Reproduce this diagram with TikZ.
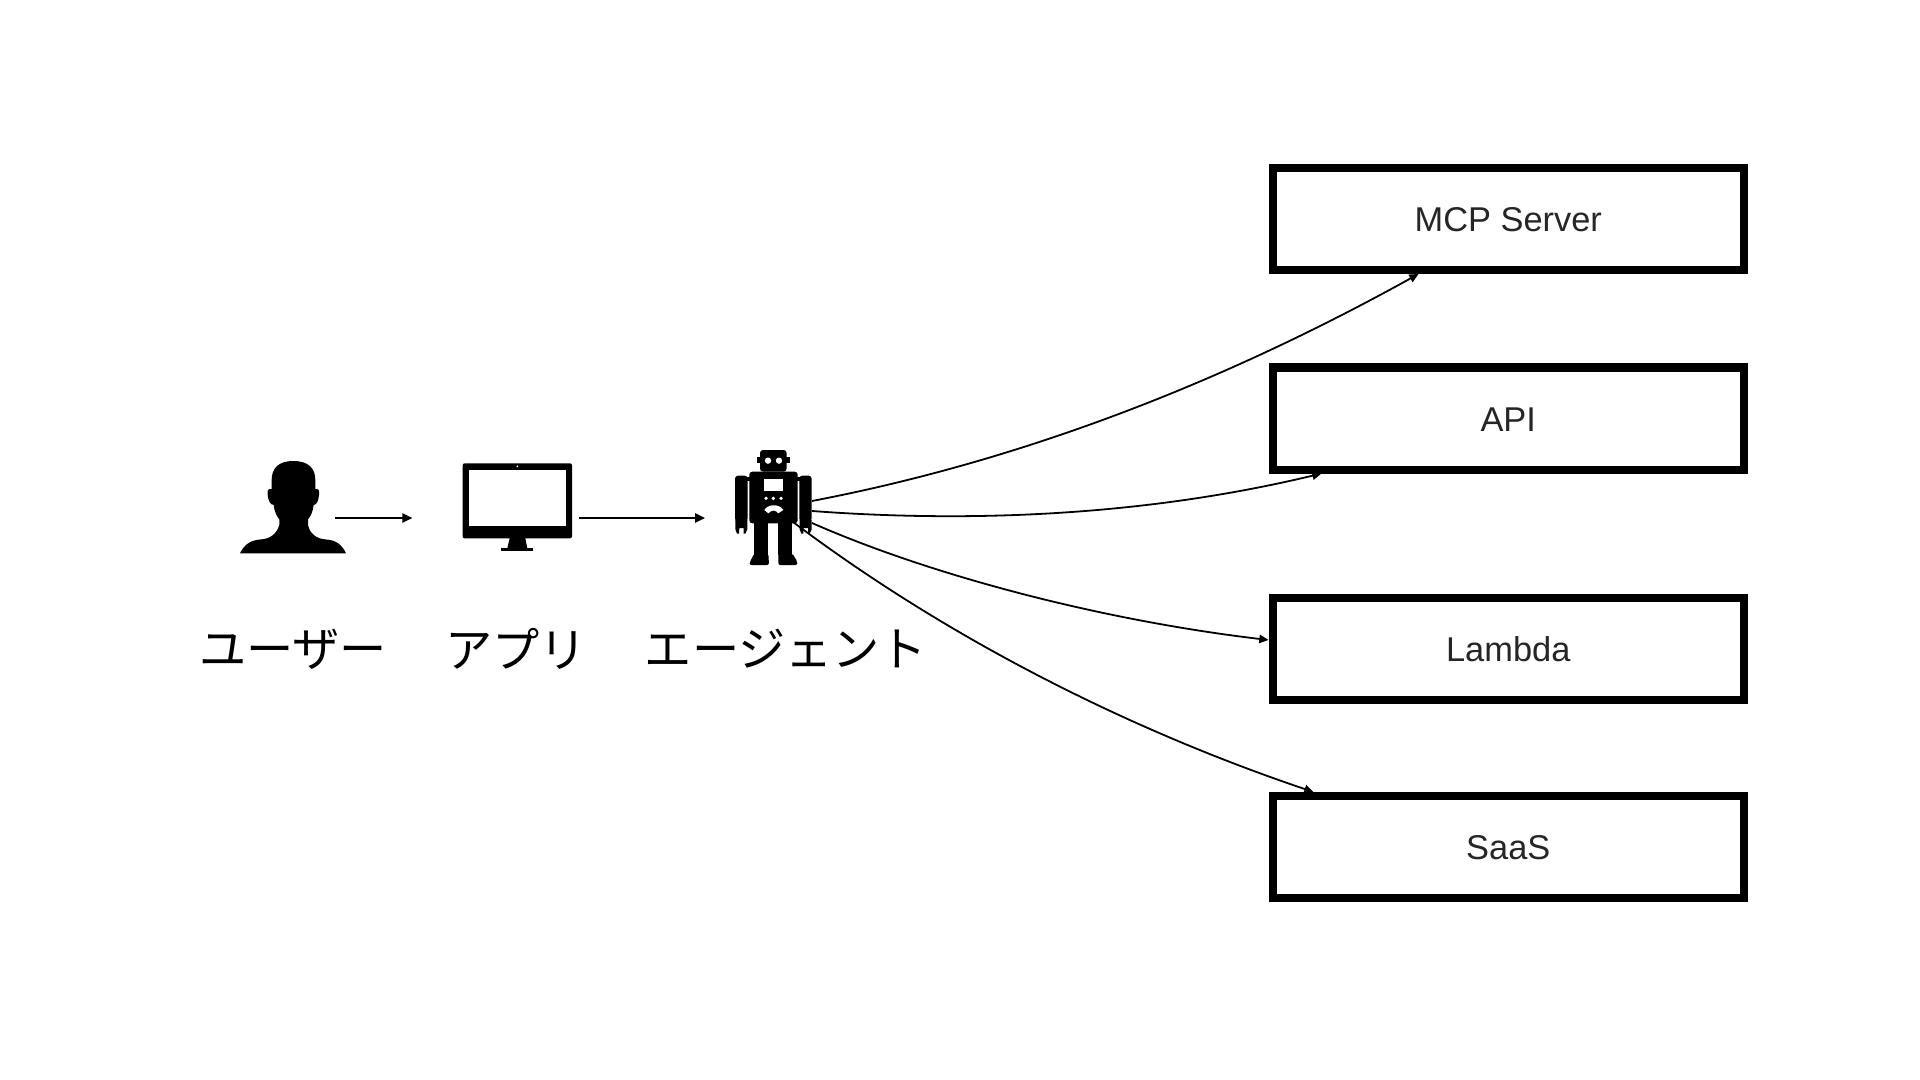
\documentclass[tikz,border=0pt]{standalone}
\usepackage{fontspec}
\usetikzlibrary{calc,arrows.meta}
\newfontfamily\jpfont{Noto Sans CJK JP}
\setmainfont{Liberation Sans}
\tikzset{
  box/.style={draw=black,line width=4pt,fill=white,rectangle,minimum width=235.75pt,minimum height=51pt,inner sep=0pt,font=\fontsize{17.2}{20}\selectfont,text=black!85,text height=12.7pt,text depth=0pt},
  caption/.style={font=\jpfont\fontsize{23.6}{28}\selectfont,inner sep=0pt,text=black},
  hidden/.style={inner sep=0pt,outer sep=0pt,rectangle},
  flow/.style={line width=1pt,-{Triangle[length=5pt,width=4.6pt]}},
  call/.style={line width=.9pt,-{Triangle[length=4.6pt,width=4.2pt]}},
  zoomA/.style={shift={(220,430)},x=.16667pt,y=-.16667pt},
  zoomB/.style={shift={(710,430)},x=.16667pt,y=-.16667pt}
}
\begin{document}
\begin{tikzpicture}[x=.5pt,y=-.5pt]
\useasboundingbox[fill=white] (0,0) rectangle (1920,1080);

% user silhouette
\begin{scope}[zoomA]
\fill (220,93) .. controls (175,93) and (155,115) .. (155,150) -- (155,177)
  .. controls (143,175) and (142,182) .. (143,195) .. controls (145,212) and (150,224) .. (161,225)
  .. controls (163,245) and (170,258) .. (178,268) -- (178,285)
  .. controls (170,312) and (150,326) .. (125,328)
  .. controls (90,330) and (72,345) .. (60,370) -- (378,370)
  .. controls (366,345) and (350,330) .. (315,328)
  .. controls (290,326) and (270,312) .. (264,285) -- (264,268)
  .. controls (272,258) and (279,245) .. (281,225)
  .. controls (291,224) and (295,212) .. (297,195) .. controls (298,182) and (297,175) .. (286,177)
  -- (286,150) .. controls (286,115) and (265,93) .. (220,93) -- cycle;
% monitor
\fill[rounded corners=1pt] (728,100) rectangle (1056,325);
\fill[white] (747,121) rectangle (1037,287);
\fill[white] (892,109) circle (3);
\fill (870,320) -- (915,320) -- (922,355) -- (862,355) -- cycle;
\fill (844,355) rectangle (939,364);
\end{scope}

% robot
\begin{scope}[zoomB]
\fill[rounded corners=1.5pt] (150,60) rectangle (230,125);
\fill (141,82) rectangle (240,100);
\fill[white] (174,92) circle (9.5);
\fill[white] (207,92) circle (9.5);
\fill[rounded corners=1.5pt] (118,125) rectangle (263,280);
\fill[white] (161,147) rectangle (218,183);
\foreach \px in {168,190,213} \fill[white] (\px,205) circle (5.5);
\fill[white] (163,240) .. controls (172,224) and (205,218) .. (220,240) -- (205,250)
  .. controls (198,240) and (185,238) .. (175,250) -- cycle;
% legs and feet
\fill (133,270) rectangle (175,375);
\fill (205,270) rectangle (247,375);
\fill[rounded corners=1pt] (133,370) -- (175,370) -- (177,405) -- (118,405) -- (120,395) -- cycle;
\fill[rounded corners=1pt] (205,370) -- (247,370) -- (262,395) -- (262,405) -- (205,405) -- cycle;
% arms
\fill[rounded corners=1.5pt] (75,137) rectangle (113,275);
\fill[rounded corners=1.5pt] (268,137) rectangle (305,275);
\fill (105,140) rectangle (120,152);
\fill (261,140) rectangle (270,152);
\fill (76,270) -- (112,270) -- (112,298) -- (106,311) -- (101,311) -- (101,294) -- (88,294) -- (87,311) -- (81,311) -- (76,298) -- cycle;
\fill (269,270) -- (305,270) -- (305,298) -- (299,311) -- (294,311) -- (294,294) -- (281,294) -- (280,311) -- (274,311) -- (269,298) -- cycle;
\end{scope}

% icon anchors
\node[hidden,minimum width=42pt,minimum height=1pt] (user) at (293,518) {};
\node[hidden,minimum width=54.6pt,minimum height=1pt] (app) at (518,518) {};
\node[hidden,minimum width=38pt,minimum height=1pt] (agent) at (773,518) {};
\coordinate (mcpstart) at (812,501);
\coordinate (apistart) at (812,511);
\coordinate (lambdastart) at (812,523);
\coordinate (saasstart) at (793,522);

% captions
\node[caption] (cuser) at (293,649) {ユーザー};
\node[caption] (capp) at (516,649) {アプリ};
\node[caption] (cagent) at (786,649) {エージェント};

% boxes
\node[box] (mcp) at (1508.25,219) {MCP Server};
\node[box] (api) at (1508.25,418.5) {API};
\node[box] (lambda) at (1508.25,649) {Lambda};
\node[box] (saas) at (1508.25,847) {SaaS};

% connectors
\draw[flow] (user.east) -- ($(app.west)+(-25.5pt,0)$);
\draw[flow] ($(app.east)+(3pt,0)$) -- ($(agent.west)+(-15pt,0)$);
\draw[call] (mcpstart) .. controls (1000,465) and (1200,395) .. ($(mcp.south west)+(75pt,0)$);
\draw[call] (apistart) .. controls (1000,525) and (1170,510) .. ($(api.south west)+(26.5pt,0)$);
\draw[call] (lambdastart) .. controls (930,575) and (1100,620) .. ($(lambda.west)+(0,4.5pt)$);
\draw[call] (saasstart) .. controls (950,640) and (1130,730) .. ($(saas.north west)+(22.5pt,0)$);
\end{tikzpicture}
\end{document}
